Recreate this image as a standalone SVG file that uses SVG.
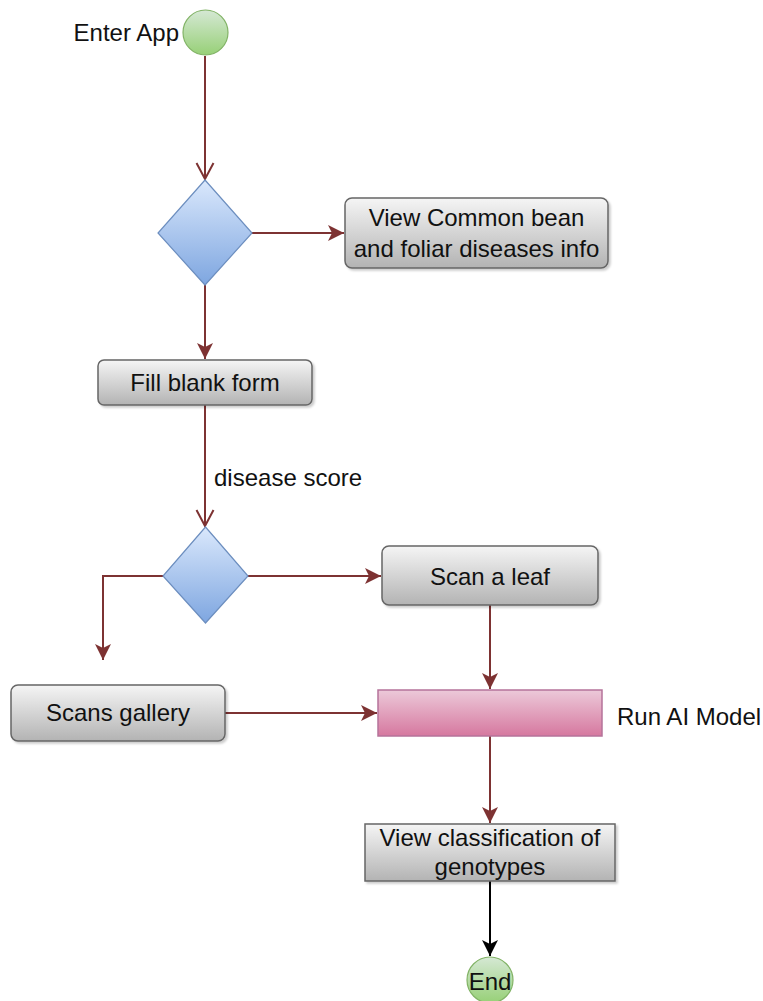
<svg xmlns="http://www.w3.org/2000/svg" width="763" height="1001" viewBox="0 0 763 1001">
  <defs>
    <linearGradient id="gGray" x1="0" y1="0" x2="0" y2="1">
      <stop offset="0" stop-color="#f5f5f5"/>
      <stop offset="1" stop-color="#b3b3b3"/>
    </linearGradient>
    <linearGradient id="gBlue" x1="0" y1="0" x2="0" y2="1">
      <stop offset="0" stop-color="#dae8fc"/>
      <stop offset="1" stop-color="#7ea6e0"/>
    </linearGradient>
    <linearGradient id="gGreen" x1="0" y1="0" x2="0" y2="1">
      <stop offset="0" stop-color="#d5e8d4"/>
      <stop offset="1" stop-color="#97d077"/>
    </linearGradient>
    <linearGradient id="gPink" x1="0" y1="0" x2="0" y2="1">
      <stop offset="0" stop-color="#ecc9d9"/>
      <stop offset="1" stop-color="#d6789f"/>
    </linearGradient>
    <filter id="shadow" x="-10%" y="-10%" width="130%" height="140%">
      <feDropShadow dx="2" dy="2" stdDeviation="1.2" flood-color="#000" flood-opacity="0.2"/>
    </filter>
    <marker id="arrRed" viewBox="0 -9 18 18" refX="16" refY="0" markerWidth="18" markerHeight="18" markerUnits="userSpaceOnUse" orient="auto">
      <path d="M0,-8 L16,0 L0,8 L4,0 Z" fill="#7d3232"/>
    </marker>
    <marker id="arrBlack" viewBox="0 -9 18 18" refX="16" refY="0" markerWidth="18" markerHeight="18" markerUnits="userSpaceOnUse" orient="auto">
      <path d="M0,-8 L16,0 L0,8 L4,0 Z" fill="#000"/>
    </marker>
    <marker id="openRed" viewBox="-1 -10 19 20" refX="16" refY="0" markerWidth="19" markerHeight="20" markerUnits="userSpaceOnUse" orient="auto">
      <path d="M0,-8.5 L16,0 L0,8.5" fill="none" stroke="#7d3232" stroke-width="2"/>
    </marker>
  </defs>
  <style>
    text { font-family: "Liberation Sans", Arial, sans-serif; font-size: 24px; fill: #111; }
    .mid { text-anchor: middle; dominant-baseline: central; }
    .box { fill: url(#gGray); stroke: #666; stroke-width: 1.5; filter: url(#shadow); }
    .dia { fill: url(#gBlue); stroke: #6c8ebf; stroke-width: 1.2; }
    .circ { fill: url(#gGreen); stroke: #82b366; stroke-width: 1.2; }
    .bar { fill: url(#gPink); stroke: #b5739a; stroke-width: 1.5; }
    .edge { fill: none; stroke: #7d3232; stroke-width: 2; }
    .edgeK { fill: none; stroke: #000; stroke-width: 2; }
  </style>

  <!-- connectors -->
  <g id="connectors">
    <path class="edge" d="M205,56 L205,179" marker-end="url(#openRed)"/>
    <path class="edge" d="M252,233 L344,233" marker-end="url(#arrRed)"/>
    <path class="edge" d="M205,285 L205,359" marker-end="url(#arrRed)"/>
    <path class="edge" d="M205,405 L205,526" marker-end="url(#openRed)"/>
    <path class="edge" d="M248,576 L381,576" marker-end="url(#arrRed)"/>
    <path class="edge" d="M163,576 L103,576 L103,660" marker-end="url(#arrRed)"/>
    <path class="edge" d="M490,605 L490,689" marker-end="url(#arrRed)"/>
    <path class="edge" d="M225,713 L377,713" marker-end="url(#arrRed)"/>
    <path class="edge" d="M490,736 L490,823" marker-end="url(#arrRed)"/>
    <path class="edgeK" d="M490,881 L490,956" marker-end="url(#arrBlack)"/>
    <text x="214" y="477" dominant-baseline="central">disease score</text>
  </g>

  <!-- start -->
  <g id="start">
    <circle class="circ" cx="205.5" cy="32.5" r="22.5"/>
    <text x="179" y="32" text-anchor="end" dominant-baseline="central">Enter App</text>
  </g>

  <!-- first decision -->
  <g id="decision1">
    <polygon class="dia" points="205,180 252,233 205,285 158,233"/>
  </g>

  <g id="viewInfo">
    <rect class="box" x="345" y="198" width="263" height="70" rx="7"/>
    <text class="mid" x="476.5" y="217">View Common bean</text>
    <text class="mid" x="476.5" y="248">and foliar diseases info</text>
  </g>

  <g id="fillForm">
    <rect class="box" x="98" y="360" width="214" height="45" rx="6"/>
    <text class="mid" x="205" y="382">Fill blank form</text>
  </g>

  <!-- second decision -->
  <g id="decision2">
    <polygon class="dia" points="205.5,527 248,576 205.5,623 163,576"/>
  </g>

  <g id="scanLeaf">
    <rect class="box" x="382" y="546" width="216" height="59" rx="7"/>
    <text class="mid" x="490" y="576">Scan a leaf</text>
  </g>

  <g id="scansGallery">
    <rect class="box" x="11" y="685" width="214" height="56" rx="7"/>
    <text class="mid" x="118" y="712">Scans gallery</text>
  </g>

  <g id="runModel">
    <rect class="bar" x="378" y="690" width="224" height="46"/>
    <text x="617" y="716" dominant-baseline="central">Run AI Model</text>
  </g>

  <g id="viewClassification">
    <rect class="box" x="365" y="824" width="250" height="57"/>
    <text class="mid" x="490" y="837">View classification of</text>
    <text class="mid" x="490" y="866">genotypes</text>
  </g>

  <g id="end">
    <circle class="circ" cx="490" cy="980" r="23"/>
    <text class="mid" x="490" y="981">End</text>
  </g>
</svg>
